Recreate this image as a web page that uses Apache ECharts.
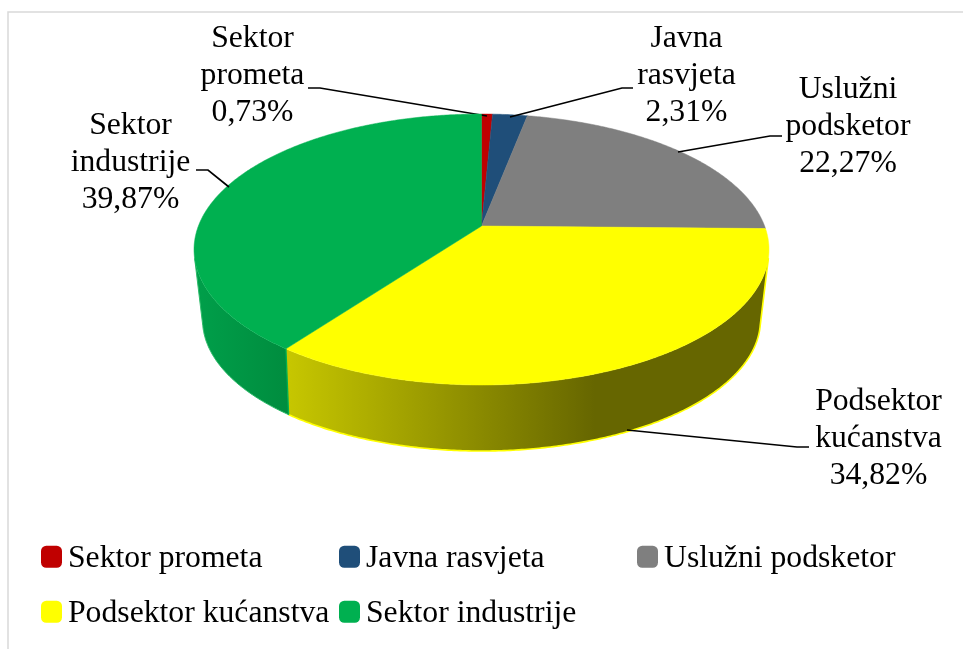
<!DOCTYPE html>
<html>
<head>
<meta charset="utf-8">
<script src="https://cdn.jsdelivr.net/npm/echarts@6/dist/echarts.min.js"></script>
<style>html,body{margin:0;padding:0;background:#fff}#c{width:963px;height:649px}</style>
</head>
<body>
<div id="c"></div>
<script>
var categories = ['Sektor prometa', 'Javna rasvjeta', 'Uslužni podsketor', 'Podsektor kućanstva', 'Sektor industrije'];
var shares = [0.73, 2.31, 22.27, 34.82, 39.87];
var labelLines = [['Sektor', 'prometa'], ['Javna', 'rasvjeta'], ['Uslužni', 'podsketor'], ['Podsektor', 'kućanstva'], ['Sektor', 'industrije']];
var topColors = ['#c00000', '#1f4e79', '#7f7f7f', '#ffff00', '#00b050'];

var FONT = '"Liberation Serif","Times New Roman",serif';
var FS = 31.7, LH = 37;
// camera model of the tilted disc
var TOP = {cx: 481.5, cy: 226, A: 283.1, B: 131.4, p: 0.1736};
var BOT = {cx: 481.5, cy: 294.5, A: 273.6, B: 126, p: 0.195};
// label placement and leader geometry (layout only)
var labelPos = [[252.5, 38.5], [686.5, 38.5], [848, 90], [878.5, 401.5], [130.5, 125.5]];
var leaders = [
  [[308, 88], [320, 88], [487, 116]],
  [[633, 88], [622, 88], [510, 117]],
  [[782, 136], [770, 136], [678, 152]],
  [[809, 447], [797, 447], [627, 430]],
  [[196, 170], [208, 170], [229, 187]]
];
var legendPos = [[41, 543], [339, 543], [637, 543], [41, 598], [339, 598]];

function project(P, deg) {
  var t = deg * Math.PI / 180, X = Math.sin(t), Y = -Math.cos(t), w = 1 - P.p * Y;
  return [P.cx + P.A * X / w, P.cy + P.B * Y / w];
}
// a wall strip is visible when its generator points outwards of the top outline
function faces(deg) {
  var a = project(TOP, deg - 0.2), b = project(TOP, deg + 0.2), t = project(TOP, deg), d = project(BOT, deg);
  return (b[0] - a[0]) * (d[1] - t[1]) - (b[1] - a[1]) * (d[0] - t[0]) < 0;
}
function wallFill(i) {
  if (i === 3) return new echarts.graphic.LinearGradient(290, 0, 595, 0, [
    {offset: 0, color: '#c6c600'}, {offset: 1, color: '#666600'}], true);
  return new echarts.graphic.LinearGradient(195, 0, 290, 0, [
    {offset: 0, color: '#009f4a'}, {offset: 1, color: '#008c3e'}], true);
}
var total = shares.reduce(function (a, b) { return a + b; }, 0);
var starts = [];
shares.reduce(function (acc, v, i) { starts[i] = acc; return acc + v; }, 0);

function render(i) {
  return function (params, api) {
    var a0 = api.value(0) / total * 360, a1 = a0 + api.value(1) / total * 360;
    var kids = [], n = Math.max(2, Math.ceil(a1 - a0) * 2), k, d;
    // front-facing side wall
    if (i >= 3) {
      var fill = wallFill(i), topArc = [], botArc = [];
      for (k = 0; k <= n; k++) {
        d = a0 + (a1 - a0) * k / n;
        if (!faces(d)) continue;
        topArc.push(project(TOP, d));
        botArc.push(project(BOT, d));
      }
      kids.push({type: 'polygon', silent: true, shape: {points: topArc.concat(botArc.slice().reverse())},
        style: {fill: fill}});
      var rim = i === 3 ? [topArc[0]].concat(botArc) : botArc.concat([topArc[topArc.length - 1]]);
      kids.push({type: 'polyline', silent: true, shape: {points: rim},
        style: {fill: null, stroke: i === 3 ? '#ffff00' : '#2dbb6a', lineWidth: i === 3 ? 1.6 : 1}});
      if (i === 4) kids.push({type: 'polyline', silent: true, shape: {points: [topArc[0], botArc[0]]},
        style: {fill: null, stroke: '#00b050', lineWidth: 1.3}});
    }
    // top face
    var pts = [[TOP.cx, TOP.cy]];
    for (k = 0; k <= n; k++) pts.push(project(TOP, a0 + (a1 - a0) * k / n));
    kids.push({type: 'polygon', shape: {points: pts},
      style: {fill: topColors[i], stroke: topColors[i], lineWidth: 0.5}});
    // leader
    kids.push({type: 'polyline', silent: true, shape: {points: leaders[i]},
      style: {fill: null, stroke: '#000', lineWidth: 1.7}});
    // label
    var txt = labelLines[i].concat([api.value(1).toFixed(2).replace('.', ',') + '%']).join('\n');
    kids.push({type: 'text', silent: true, style: {
      x: labelPos[i][0], y: labelPos[i][1] - LH / 2, text: txt, align: 'center', verticalAlign: 'top',
      font: FS + 'px ' + FONT, lineHeight: LH, fill: '#000'}});
    return {type: 'group', children: kids};
  };
}

var chart = echarts.init(document.getElementById('c'), null, {renderer: 'canvas'});
chart.setOption({
  animation: false,
  backgroundColor: '#fff',
  tooltip: {show: false},
  graphic: [
    {type: 'polyline', silent: true, shape: {points: [[8, 649], [8, 12], [963, 12]]},
      style: {fill: null, stroke: '#d9d9d9', lineWidth: 1.5}}
  ],
  legend: categories.map(function (c, i) {
    return {data: [c], left: legendPos[i][0], top: legendPos[i][1], padding: 0,
      itemWidth: 21, itemHeight: 22, itemGap: 0, icon: 'roundRect', selectedMode: false,
      formatter: '{t|{name}}',
      textStyle: {fontFamily: FONT, fontSize: FS, color: '#000',
        rich: {t: {fontFamily: FONT, fontSize: FS, color: '#000', padding: [4.5, 0, 0, 1]}}}};
  }),
  series: categories.map(function (c, i) {
    return {type: 'custom', name: c, coordinateSystem: 'none', renderItem: render(i),
      itemStyle: {color: topColors[i]}, clip: false, encode: {tooltip: 1},
      data: [[starts[i], shares[i]]]};
  })
});
</script>
</body>
</html>
